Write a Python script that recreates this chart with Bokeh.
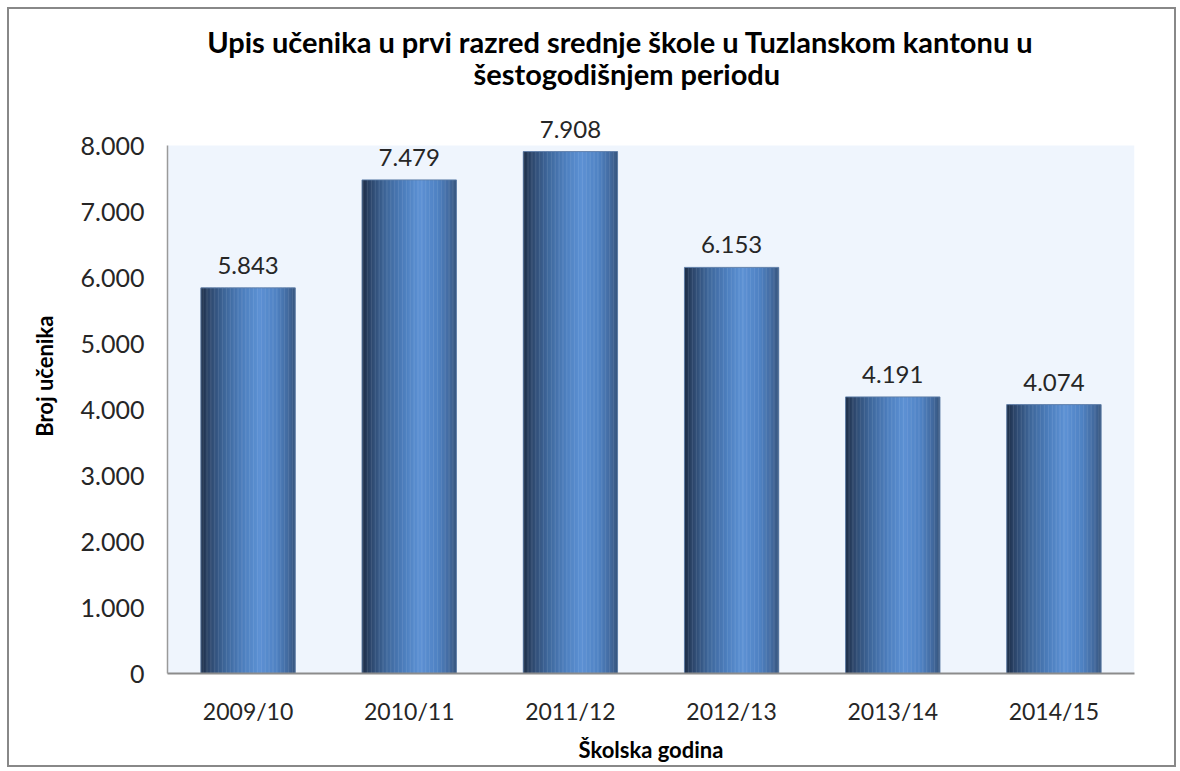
from math import pi
from bokeh.plotting import figure
from bokeh.models import (ColumnDataSource, Range1d, FixedTicker, LabelSet, Label,
                          BoxAnnotation, LinearAxis)
from bokeh.transform import dodge
from bokeh.core.properties import value
from bokeh.embed import file_html
from bokeh.resources import INLINE

# ---- data ----
years = ["2009/10", "2010/11", "2011/12", "2012/13", "2013/14", "2014/15"]
students = [5843, 7479, 7908, 6153, 4191, 4074]
value_labels = ["5.843", "7.479", "7.908", "6.153", "4.191", "4.074"]
y_ticks = [0, 1000, 2000, 3000, 4000, 5000, 6000, 7000, 8000]
y_tick_labels = ["0", "1.000", "2.000", "3.000", "4.000", "5.000", "6.000", "7.000", "8.000"]
y_max = 8000

title_lines = ["Upis učenika u prvi razred srednje škole u Tuzlanskom kantonu u",
               "šestogodišnjem periodu"]
x_title = "Školska godina"
y_title = "Broj učenika"

FONT = "Lato"

src = ColumnDataSource(dict(cat=years, val=students, lbl=value_labels))

# frame extends to top of canvas so texts above the plot area are not clipped
y_top = y_max * 664 / 528

p = figure(x_range=years, y_range=Range1d(0, y_top),
           width=1169, height=760, output_backend="svg", toolbar_location=None,
           min_border_left=158, min_border_right=44, min_border_top=0, min_border_bottom=96)
p.title.visible = False
p.styles = {"border": "2px solid #888888", "margin": "7px 0 0 7px"}
p.background_fill_color = "white"
p.border_fill_color = "white"
p.outline_line_color = None
p.xgrid.grid_line_color = None
p.ygrid.grid_line_color = None

# plot area background
p.add_layout(BoxAnnotation(bottom=0, top=y_max, fill_color="#eff5fd", fill_alpha=1,
                           line_color=None, level="underlay"))

# axes
p.yaxis.ticker = FixedTicker(ticks=y_ticks)
p.yaxis.major_label_overrides = {t: l for t, l in zip(y_ticks, y_tick_labels)}
p.yaxis.bounds = (0, y_max)
for ax in (p.xaxis[0], p.yaxis[0]):
    ax.major_tick_line_color = None
    ax.minor_tick_line_color = None
    ax.major_label_text_font = FONT
    ax.major_label_text_color = "#262626"
p.xaxis.major_label_text_font_size = "23px"
p.yaxis.major_label_text_font_size = "25px"
p.yaxis.axis_line_color = "#9a9a9a"
p.yaxis.axis_line_width = 1.5
p.yaxis.major_label_standoff = 17
p.xaxis.axis_line_color = "#8c8c8c"
p.xaxis.axis_line_width = 2
p.xaxis.major_label_standoff = 17
p.xaxis.axis_label = x_title
p.xaxis.axis_label_standoff = 8
p.xaxis.axis_label_text_font = FONT
p.xaxis.axis_label_text_font_size = "22px"
p.xaxis.axis_label_text_font_style = "bold"
p.xaxis.axis_label_text_color = "black"

# label-only axis for the y title (trailing no-break spaces shift it down along the axis)
ylab = LinearAxis(axis_label=y_title + "\u00a0" * 13, ticker=FixedTicker(ticks=[]),
                  axis_line_color=None, major_tick_line_color=None, minor_tick_line_color=None,
                  major_label_text_font_size="0px", axis_label_standoff=20,
                  axis_label_text_font=FONT, axis_label_text_font_size="22px",
                  axis_label_text_font_style="bold", axis_label_text_color="black")
p.add_layout(ylab, "left")

# gradient bars via thin slices
bw = 0.585
stops = [(0.00, (0x1c, 0x2c, 0x45)), (0.08, (0x2c, 0x45, 0x69)), (0.25, (0x3e, 0x66, 0x99)),
         (0.45, (0x4d, 0x7f, 0xbe)), (0.62, (0x5d, 0x91, 0xd4)), (0.80, (0x4f, 0x82, 0xc3)),
         (0.93, (0x42, 0x69, 0x9d)), (1.00, (0x36, 0x55, 0x7e))]

def col_at(f):
    for (f0, c0), (f1, c1) in zip(stops[:-1], stops[1:]):
        if f0 <= f <= f1:
            t = (f - f0) / (f1 - f0) if f1 > f0 else 0
            c = [round(a + (b - a) * t) for a, b in zip(c0, c1)]
            return "#%02x%02x%02x" % tuple(c)
    return "#%02x%02x%02x" % stops[-1][1]

N = 70
sw = bw / N
for i in range(N):
    f = (i + 0.5) / N
    off = -bw / 2 + (i + 0.5) * sw
    p.vbar(x=dodge("cat", off, range=p.x_range), top="val", bottom=0, width=sw * 1.3,
           source=src, fill_color=col_at(f), line_color=None)
p.vbar(x="cat", top="val", bottom=0, width=bw, source=src, fill_color=None,
       line_color="#5f7ea8", line_width=1, line_alpha=0.9)

# value labels
p.add_layout(LabelSet(x="cat", y="val", text="lbl", source=src, y_offset=14,
                      text_align="center", text_baseline="alphabetic",
                      text_font=value(FONT), text_font_size="24px", text_color="#262626"))

# title (two lines)
cx = 2.81
p.add_layout(Label(x=cx, y=9575, text=title_lines[0], text_align="center", text_baseline="alphabetic",
                   text_font=FONT, text_font_size="29px", text_font_style="bold", text_color="black"))
p.add_layout(Label(x=cx + 0.04, y=9090, text=title_lines[1], text_align="center", text_baseline="alphabetic",
                   text_font=FONT, text_font_size="29px", text_font_style="bold", text_color="black"))

open("out.html", "w").write(file_html(p, INLINE))
